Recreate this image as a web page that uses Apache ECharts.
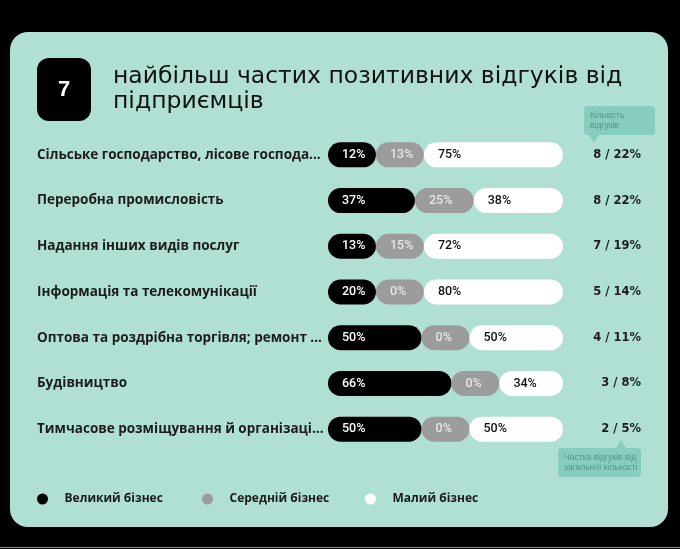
<!DOCTYPE html>
<html>
<head>
<meta charset="utf-8">
<script src="https://cdn.jsdelivr.net/npm/echarts@6/dist/echarts.min.js"></script>
<style>
html,body{margin:0;padding:0;background:#000;}
#c{width:680px;height:549px;}
</style>
</head>
<body>
<div id="c"></div>
<script>
const categories = [
  'Сільське господарство, лісове господа...',
  'Переробна промисловість',
  'Надання інших видів послуг',
  'Інформація та телекомунікації',
  'Оптова та роздрібна торгівля; ремонт ...',
  'Будівництво',
  'Тимчасове розміщування й організаці...'
];
const seriesNames = ['Великий бізнес', 'Середній бізнес', 'Малий бізнес'];
const largeBiz = [12, 37, 13, 20, 50, 66, 50];
const mediumBiz = [13, 25, 15, 0, 0, 0, 0];
const smallBiz = [75, 38, 72, 80, 50, 34, 50];
const reviewCounts = [8, 8, 7, 5, 4, 3, 2];
const reviewShares = [22, 22, 19, 14, 11, 8, 5];

const MIN_SEG = 20.4; // minimum visual share of a pill segment (in % of bar length)

// visual segment lengths: each segment gets at least MIN_SEG, the rest split proportionally
function layoutRow(vals) {
  const fixed = vals.map(() => false);
  let widths = vals.slice();
  for (let iter = 0; iter < 5; iter++) {
    const nFixed = fixed.filter(Boolean).length;
    const remaining = 100 - nFixed * MIN_SEG;
    const freeSum = vals.reduce((s, v, i) => s + (fixed[i] ? 0 : v), 0);
    let changed = false;
    widths = vals.map((v, i) => fixed[i] ? MIN_SEG : (freeSum ? v / freeSum * remaining : 0));
    widths.forEach((w, i) => { if (!fixed[i] && w < MIN_SEG) { fixed[i] = true; changed = true; } });
    if (!changed) break;
  }
  return widths;
}
const raw = [largeBiz, mediumBiz, smallBiz];
const visual = [[], [], []];
categories.forEach((c, i) => {
  const w = layoutRow([largeBiz[i], mediumBiz[i], smallBiz[i]]);
  w.forEach((v, k) => visual[k].push(v));
});

const colors = ['#000000', '#9c9c9c', '#ffffff'];
const labelColors = ['#ffffff', '#e6e6e6', '#111111'];
const DEJAVU = '"DejaVu Sans", sans-serif';
const OPEN = '"Open Sans", "DejaVu Sans", sans-serif';
const BARFONT = 'Roboto, "Liberation Sans", sans-serif';

const chart = echarts.init(document.getElementById('c'), null, {renderer: 'canvas'});

function callout(x, y, w, h, tipX, tipUp, lines) {
  const tip = tipUp
    ? [[tipX - 5, y], [tipX, y - 8], [tipX + 5, y]]
    : [[tipX - 5, y + h], [tipX, y + h + 8], [tipX + 5, y + h]];
  return [
    {type: 'rect', shape: {x: x, y: y, width: w, height: h, r: 4}, style: {fill: '#86cdbd'}, z: 1},
    {type: 'polygon', shape: {points: tip}, style: {fill: '#86cdbd'}, z: 1},
    {type: 'text', x: x + 6, y: y + h / 2, style: {text: lines, fill: '#5a9484', font: '8.5px "Liberation Sans", sans-serif', lineHeight: 10, verticalAlign: 'middle'}, z: 2}
  ];
}

const option = {
  backgroundColor: '#000000',
  animation: false,
  title: {
    text: 'найбільш частих позитивних відгуків від\nпідприємців',
    left: 113, top: 64, padding: 0,
    textStyle: {fontFamily: DEJAVU, fontSize: 23.5, fontWeight: 'normal', color: '#111111', lineHeight: 25}
  },
  graphic: [
    {type: 'rect', shape: {x: 10, y: 32, width: 658, height: 495, r: 18}, style: {fill: '#b0dfd4'}, z: -10, silent: true},
    {type: 'rect', shape: {x: 0, y: 547, width: 680, height: 1}, style: {fill: '#8d8d8d'}, z: -10, silent: true},
    {type: 'rect', shape: {x: 37, y: 58, width: 54, height: 63, r: 12}, style: {fill: '#000000'}, z: 1},
    {type: 'text', x: 64, y: 90, style: {text: '7', fill: '#ffffff', font: 'bold 22px "Liberation Sans", Arial, sans-serif', align: 'center', verticalAlign: 'middle'}, z: 2},
    ...callout(584, 106, 71, 29, 594, false, 'Кількість\nвідгуків'),
    ...callout(558, 448, 83, 29, 621, true, 'Частка відгуків від\nзагальної кількості')
  ],
  legend: seriesNames.map((n, i) => ({
    data: [{name: n, itemStyle: {color: colors[i]}}],
    left: [32, 197, 360][i], top: 488,
    icon: 'circle', itemWidth: 34, itemHeight: 11,
    textStyle: {fontFamily: OPEN, fontSize: 12, fontWeight: 'bold', color: '#1a1a1a'}
  })),
  grid: {left: 328, right: 117, top: 132, bottom: 97},
  xAxis: {type: 'value', min: 0, max: 100, show: false},
  yAxis: [
    {
      type: 'category', data: categories, inverse: true,
      axisLine: {show: false}, axisTick: {show: false},
      axisLabel: {align: 'left', margin: 291, color: '#1c1c1c', fontFamily: OPEN, fontSize: 13.5, fontWeight: 'bold'}
    },
    {
      type: 'category', data: categories.map((c, i) => reviewCounts[i] + ' / ' + reviewShares[i] + '%'),
      inverse: true, position: 'right',
      axisLine: {show: false}, axisTick: {show: false},
      axisLabel: {align: 'right', margin: 78, color: '#1c1c1c', fontFamily: DEJAVU, fontSize: 11.5, fontWeight: 'bold'}
    }
  ],
  series: seriesNames.map((n, k) => ({
    name: n, type: 'bar', stack: 'all', barWidth: 25,
    data: visual[k],
    itemStyle: {color: colors[k], borderRadius: 12.5},
    label: {
      show: true, position: 'insideLeft', distance: 14,
      formatter: p => raw[k][p.dataIndex] + '%',
      color: labelColors[k], fontFamily: BARFONT, fontSize: 12.5, fontWeight: 500
    }
  }))
};
chart.setOption(option);
</script>
</body>
</html>
